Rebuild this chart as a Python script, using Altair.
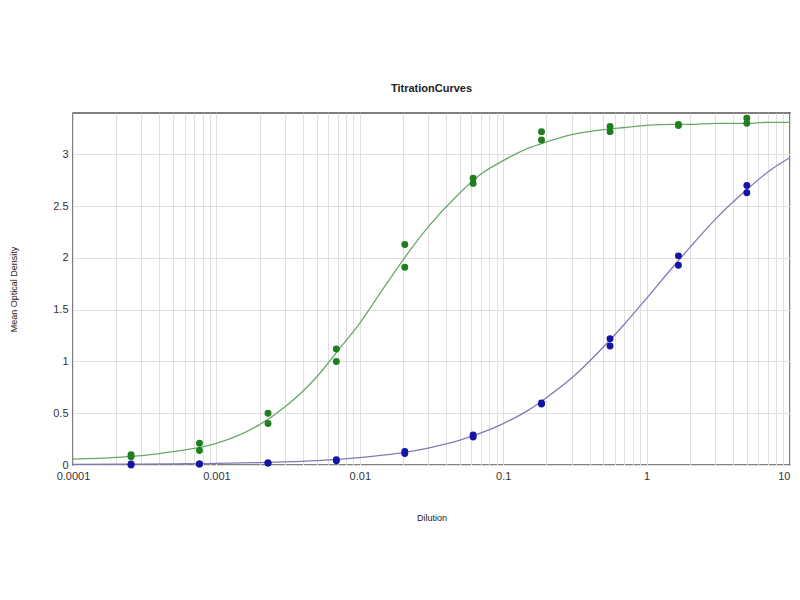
"""Titration curves: two duplicate-well dilution series with fitted curves."""

import altair as alt
import pandas as pd

GREEN_PT = "#1f7f1f"
BLUE_PT = "#1616a4"
GREEN_LINE = "#6aa86a"
BLUE_LINE = "#7c7cb8"
INK = "#222222"
GRID = "#e0e0e0"
FONT = "Liberation Sans"

# measured wells (3-fold dilution series, two replicates each)
DILUTIONS = [0.000254, 0.000762, 0.00229, 0.00686, 0.0206, 0.0617, 0.185, 0.556, 1.667, 5.0]
GREEN_REP1 = [0.10, 0.21, 0.50, 1.12, 2.13, 2.77, 3.22, 3.27, 3.29, 3.35]
GREEN_REP2 = [0.08, 0.14, 0.40, 1.00, 1.91, 2.72, 3.14, 3.22, 3.28, 3.30]
BLUE_REP1 = [0.01, 0.01, 0.02, 0.05, 0.13, 0.29, 0.60, 1.22, 2.02, 2.70]
BLUE_REP2 = [0.00, 0.01, 0.02, 0.04, 0.11, 0.27, 0.59, 1.15, 1.93, 2.63]

# fitted curves
CURVE_X = [0.0001, 0.0002, 0.0003, 0.0005, 0.0007, 0.001, 0.002, 0.003, 0.005, 0.007,
           0.01, 0.015, 0.02, 0.03, 0.05, 0.07, 0.1, 0.15, 0.2, 0.3, 0.5, 0.7,
           1, 1.5, 2, 3, 5, 7, 10]
GREEN_FIT = [0.056, 0.074, 0.09, 0.13, 0.16, 0.21, 0.39, 0.56, 0.85, 1.10,
             1.37, 1.73, 1.98, 2.30, 2.63, 2.81, 2.94, 3.06, 3.12, 3.19, 3.24, 3.26,
             3.28, 3.29, 3.29, 3.30, 3.30, 3.31, 3.31]
BLUE_FIT = [0.006, 0.008, 0.009, 0.011, 0.013, 0.015, 0.023, 0.030, 0.043, 0.055,
            0.071, 0.097, 0.12, 0.164, 0.24, 0.31, 0.40, 0.53, 0.65, 0.84, 1.14, 1.36,
            1.61, 1.90, 2.10, 2.37, 2.66, 2.83, 2.97]

DECADES = [0.0001, 0.001, 0.01, 0.1, 1, 10]
DECADE_LABELS = ["0.0001", "0.001", "0.01", "0.1", "1", "10"]
Y_TICKS = [0, 0.5, 1, 1.5, 2, 2.5, 3]

minor = [round(d * k, 6) for d in DECADES[:-1] for k in range(1, 10)] + [10]
label_expr = " : ".join(
    f"datum.value == {v} ? '{t}'" for v, t in zip(DECADES, DECADE_LABELS)
) + " : ''"

points = pd.DataFrame(
    [(d, v, "green") for d, v in zip(DILUTIONS, GREEN_REP1)]
    + [(d, v, "green") for d, v in zip(DILUTIONS, GREEN_REP2)]
    + [(d, v, "blue") for d, v in zip(DILUTIONS, BLUE_REP1)]
    + [(d, v, "blue") for d, v in zip(DILUTIONS, BLUE_REP2)],
    columns=["dilution", "od", "series"],
)
curves = pd.DataFrame(
    [(d, v, "green") for d, v in zip(CURVE_X, GREEN_FIT)]
    + [(d, v, "blue") for d, v in zip(CURVE_X, BLUE_FIT)],
    columns=["dilution", "od", "series"],
)

x = alt.X(
    "dilution:Q",
    scale=alt.Scale(type="log", domain=[0.0001, 10], nice=False),
    axis=alt.Axis(
        title="Dilution", values=minor, labelExpr=label_expr, ticks=False,
        domain=False, labelPadding=5, labelFontSize=11, labelColor="#333",
        labelAlign=alt.ExprRef(expr="datum.value == 10 ? 'right' : 'center'"),
        titleFontSize=9, titleFontWeight="normal", titleY=52, titleBaseline="middle",
        gridColor=GRID, labelOverlap=False, labelFlush=False,
    ),
)
y = alt.Y(
    "od:Q",
    scale=alt.Scale(domain=[0, 3.4], nice=False),
    axis=alt.Axis(
        title="Mean Optical Density", values=Y_TICKS, format="~g", ticks=False,
        domain=False, labelPadding=5, labelFontSize=11, labelColor="#333",
        titleFontSize=9, titleFontWeight="normal", titleX=-60, titleY=176,
        titleBaseline="middle", gridColor=GRID,
    ),
)

line_color = alt.Color(
    "series:N", legend=None,
    scale=alt.Scale(domain=["green", "blue"], range=[GREEN_LINE, BLUE_LINE]),
)
point_color = alt.Color(
    "series:N", legend=None,
    scale=alt.Scale(domain=["green", "blue"], range=[GREEN_PT, BLUE_PT]),
)

lines = alt.Chart(curves).mark_line(strokeWidth=1.3, interpolate="monotone").encode(
    x=x, y=y, color=line_color, detail="series:N"
)
dots = alt.Chart(points).mark_circle(size=48, opacity=1).encode(
    x=x, y=y, color=point_color
)

chart = (
    alt.layer(lines, dots)
    .resolve_scale(color="independent")
    .properties(
        width=717,
        height=352,
        autosize=alt.AutoSizeParams(type="none"),
        padding={"left": 65, "top": 105, "right": 2, "bottom": 80},
        title=alt.TitleParams(
            "TitrationCurves", fontSize=11, fontWeight="bold", color=INK,
            font=FONT, offset=19,
        ),
    )
    .configure(background="white", font=FONT)
    .configure_axis(labelFont=FONT, titleFont=FONT, titleColor=INK)
    .configure_view(stroke="#555555", strokeWidth=1.5)
)

chart.save("out.html", embed_options={"renderer": "svg", "actions": False})
